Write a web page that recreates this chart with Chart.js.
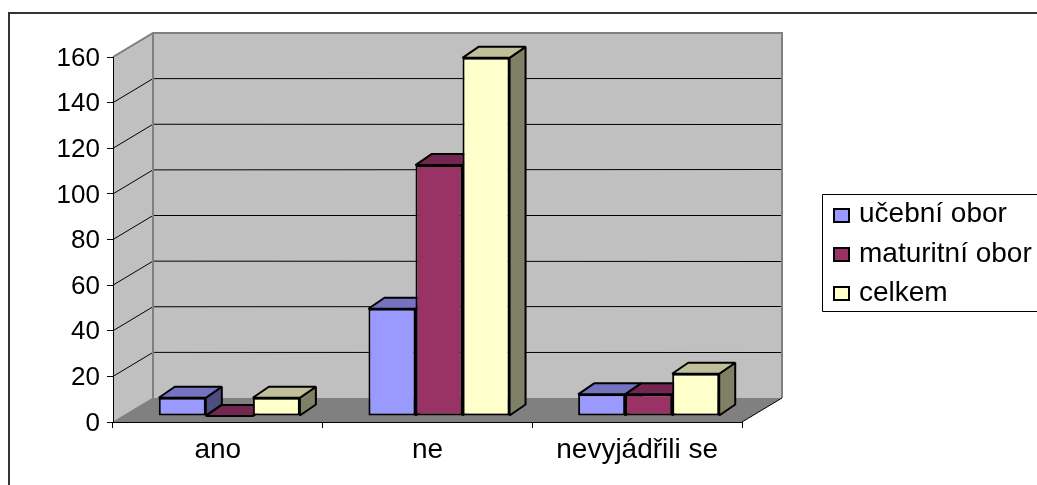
<!DOCTYPE html>
<html><head><meta charset="utf-8">
<script src="https://cdn.jsdelivr.net/npm/chart.js@4"></script>
<style>html,body{margin:0;padding:0;background:#fff;overflow:hidden}#w{width:1037px;height:485px;position:relative}</style>
</head><body><div id="w"><canvas id="c" width="1037" height="485"></canvas></div>
<script>
const categories = ['ano', 'ne', 'nevyjádřili se'];
const ucebniObor = [8, 47, 9.5];
const maturitniObor = [0, 110, 9.5];
const celkem = [8, 157, 18.5];
const seriesNames = ['učební obor', 'maturitní obor', 'celkem'];
const seriesColors = ['#9999ff', '#993366', '#ffffcc'];
const topColors = ['#7373bf', '#732650', '#bfbf99'];
const sideColors = ['#4d4d80', '#4d1a33', '#808066'];
const yTicks = [0, 20, 40, 60, 80, 100, 120, 140, 160];

const FONT = '"Liberation Sans", Arial, sans-serif';
const FS_NUM = 26;
const FS_TXT = 28;
const WALL = {dx: 40, dy: -24};
const BAR_OFF = {dx: 11.5, dy: -6};
const BAR_D = {dx: 16, dy: -11};

function poly(ctx, pts, fill, stroke, lw) {
  ctx.beginPath();
  pts.forEach((p, i) => i ? ctx.lineTo(p[0], p[1]) : ctx.moveTo(p[0], p[1]));
  ctx.closePath();
  if (fill) { ctx.fillStyle = fill; ctx.fill(); }
  if (stroke) { ctx.strokeStyle = stroke; ctx.lineWidth = lw; ctx.lineJoin = 'bevel'; ctx.stroke(); }
}

const scene3d = {
  id: 'scene3d',
  beforeDraw(chart) {
    const {ctx, chartArea: a, scales: {y}} = chart;
    const {dx, dy} = WALL;
    ctx.save();
    // outer frame
    ctx.strokeStyle = '#333'; ctx.lineWidth = 2;
    ctx.beginPath(); ctx.moveTo(1037, 13); ctx.lineTo(9, 13); ctx.lineTo(9, 485); ctx.stroke();
    // side wall, back wall, floor
    poly(ctx, [[a.left, a.top], [a.left + dx, a.top + dy], [a.left + dx, a.bottom + dy], [a.left, a.bottom]], '#c0c0c0');
    poly(ctx, [[a.left + dx, a.top + dy], [a.right + dx, a.top + dy], [a.right + dx, a.bottom + dy], [a.left + dx, a.bottom + dy]], '#c0c0c0');
    poly(ctx, [[a.left, a.bottom], [a.right, a.bottom], [a.right + dx, a.bottom + dy], [a.left + dx, a.bottom + dy]], '#808080');
    // gridlines
    ctx.strokeStyle = '#000'; ctx.lineWidth = 1;
    yTicks.forEach(v => {
      if (v === 0) return;
      const py = y.getPixelForValue(v);
      ctx.beginPath();
      ctx.moveTo(a.left, py); ctx.lineTo(a.left + dx, py + dy);
      if (v !== 160) ctx.lineTo(a.right + dx, Math.floor(py + dy) + 0.5);
      ctx.stroke();
    });
    // wall frame
    ctx.strokeStyle = '#808080'; ctx.lineWidth = 2;
    ctx.beginPath();
    ctx.moveTo(a.left, a.top); ctx.lineTo(a.left + dx, a.top + dy);
    ctx.lineTo(a.right + dx, a.top + dy); ctx.lineTo(a.right + dx, a.bottom + dy);
    ctx.moveTo(a.left + dx, a.top + dy); ctx.lineTo(a.left + dx, a.bottom + dy);
    ctx.stroke();
    ctx.lineWidth = 1;
    ctx.beginPath(); ctx.moveTo(a.left, a.bottom); ctx.lineTo(a.left + dx, a.bottom + dy); ctx.stroke();
    ctx.strokeStyle = '#000';
    ctx.beginPath(); ctx.moveTo(a.right, a.bottom); ctx.lineTo(a.right + dx, a.bottom + dy); ctx.stroke();
    ctx.restore();
  },
  beforeDatasetsDraw(chart) {
    const {ctx} = chart;
    ctx.save();
    ctx.translate(BAR_OFF.dx, BAR_OFF.dy);
    chart.data.datasets.forEach((ds, i) => {
      const meta = chart.getDatasetMeta(i);
      meta.data.forEach(bar => {
        const p = bar.getProps(['x', 'y', 'base', 'width']);
        const l = p.x - p.width / 2, r = p.x + p.width / 2, t = p.y, b = p.base;
        const {dx, dy} = BAR_D;
        poly(ctx, [[r, t], [r + dx, t + dy], [r + dx, b + dy], [r, b]], sideColors[i], '#000', 2);
        poly(ctx, [[l, t], [l + dx, t + dy], [r + dx, t + dy], [r, t]], topColors[i], '#000', 2);
      });
      meta.controller.draw();
    });
    ctx.restore();
    return false;
  },
  afterDraw(chart) {
    const {ctx} = chart;
    ctx.save();
    ctx.fillStyle = '#fff'; ctx.strokeStyle = '#000'; ctx.lineWidth = 1;
    ctx.fillRect(822.5, 194.5, 220, 117);
    ctx.beginPath(); ctx.moveTo(1037, 194.5); ctx.lineTo(822.5, 194.5); ctx.lineTo(822.5, 311.5); ctx.lineTo(1037, 311.5); ctx.stroke();
    const ys = [222, 262, 301];
    const sw = [209, 248, 287];
    ctx.textBaseline = 'alphabetic'; ctx.textAlign = 'left';
    ctx.font = FS_TXT + 'px ' + FONT;
    seriesNames.forEach((n, i) => {
      ctx.fillStyle = seriesColors[i]; ctx.strokeStyle = '#000'; ctx.lineWidth = 2;
      ctx.fillRect(834, sw[i], 15, 13); ctx.strokeRect(834, sw[i], 15, 13);
      ctx.fillStyle = '#000';
      ctx.fillText(n, 859, ys[i]);
    });
    ctx.restore();
  }
};

new Chart(document.getElementById('c'), {
  type: 'bar',
  data: {
    labels: categories,
    datasets: [ucebniObor, maturitniObor, celkem].map((d, i) => ({
      label: seriesNames[i], data: d,
      backgroundColor: seriesColors[i], borderColor: '#000', borderWidth: 2, borderSkipped: false,
      barPercentage: 1, categoryPercentage: 0.673
    }))
  },
  plugins: [scene3d],
  options: {
    responsive: false, animation: false,
    layout: {padding: {left: 0, right: 295, top: 57, bottom: 0}},
    plugins: {legend: {display: false}, tooltip: {enabled: false}},
    scales: {
      x: {
        afterFit(s) { s.height = 63; },
        grid: {drawOnChartArea: false, color: '#000', tickLength: 6, offset: true},
        border: {color: '#000'},
        ticks: {color: '#000', font: {family: FONT, size: FS_TXT}, padding: 5, maxRotation: 0, autoSkip: false}
      },
      y: {
        min: 0, max: 160,
        afterFit(s) {
          s.width = 113;
          if (!s._shifted) {
            const orig = s.drawLabels;
            s.drawLabels = function (area) {
              s.ctx.save(); s.ctx.translate(0, 1.5);
              orig.call(s, area);
              s.ctx.restore();
            };
            s._shifted = true;
          }
        },
        grid: {drawOnChartArea: false, color: '#000', tickLength: 6},
        border: {color: '#000'},
        ticks: {color: '#000', stepSize: 20, font: {family: FONT, size: FS_NUM}, padding: 7}
      }
    }
  }
});
</script></body></html>
